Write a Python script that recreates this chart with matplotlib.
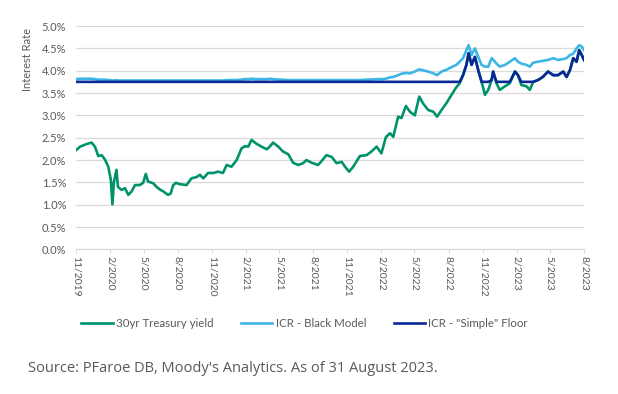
import matplotlib.pyplot as plt
import matplotlib.dates as mdates
import pandas as pd

# dates of the sampled points (shared by all three series)
dates = [
    "2019-11-01", "2019-11-12", "2019-11-30", "2019-12-13", "2019-12-22", "2019-12-31", "2020-01-09", "2020-01-18",
    "2020-01-27", "2020-02-03", "2020-02-07", "2020-02-11", "2020-02-18", "2020-02-22", "2020-03-03", "2020-03-12",
    "2020-03-21", "2020-03-30", "2020-04-08", "2020-04-21", "2020-04-30", "2020-05-07", "2020-05-13", "2020-05-27",
    "2020-06-05", "2020-06-14", "2020-06-23", "2020-07-06", "2020-07-13", "2020-07-20", "2020-07-27", "2020-08-07",
    "2020-08-25", "2020-09-07", "2020-09-21", "2020-09-30", "2020-10-09", "2020-10-22", "2020-11-05", "2020-11-18",
    "2020-12-01", "2020-12-11", "2020-12-24", "2021-01-07", "2021-01-20", "2021-01-29", "2021-02-07", "2021-02-16",
    "2021-03-02", "2021-03-15", "2021-03-29", "2021-04-06", "2021-04-15", "2021-04-29", "2021-05-12", "2021-05-26",
    "2021-06-08", "2021-06-22", "2021-07-05", "2021-07-14", "2021-07-28", "2021-08-14",
    "2021-08-19", "2021-09-06", "2021-09-20", "2021-10-03", "2021-10-17", "2021-10-26", "2021-11-06", "2021-11-17",
    "2021-12-05", "2021-12-23", "2022-01-05", "2022-01-19", "2022-02-01", "2022-02-13", "2022-02-24", "2022-03-05",
    "2022-03-18", "2022-03-27", "2022-04-08", "2022-04-19", "2022-05-02", "2022-05-14", "2022-05-24", "2022-06-07",
    "2022-06-21", "2022-07-01", "2022-07-13", "2022-07-26", "2022-08-09", "2022-08-22", "2022-08-31", "2022-09-09",
    "2022-09-18", "2022-09-24", "2022-10-02", "2022-10-11", "2022-10-20", "2022-10-29", "2022-11-07", "2022-11-16",
    "2022-11-25", "2022-11-29", "2022-12-08", "2022-12-17", "2022-12-31", "2023-01-13", "2023-01-27", "2023-02-04",
    "2023-02-13", "2023-02-27", "2023-03-08", "2023-03-17", "2023-03-30", "2023-04-12", "2023-04-26", "2023-05-10",
    "2023-05-23", "2023-06-06", "2023-06-15", "2023-06-24", "2023-07-03", "2023-07-12", "2023-07-19", "2023-07-26",
    "2023-08-01",
]

treasury = [
    2.22, 2.30, 2.36, 2.39, 2.30, 2.09, 2.11, 2.01, 1.85, 1.55,
    1.01, 1.50, 1.78, 1.40, 1.33, 1.37, 1.22, 1.30, 1.44, 1.44,
    1.49, 1.69, 1.52, 1.48, 1.40, 1.34, 1.30, 1.22, 1.25, 1.44,
    1.49, 1.46, 1.44, 1.59, 1.62, 1.67, 1.59, 1.71, 1.71, 1.74,
    1.71, 1.89, 1.85, 2.00, 2.26, 2.31, 2.30, 2.45, 2.36, 2.30,
    2.24, 2.30, 2.39, 2.30, 2.19, 2.13, 1.94, 1.89, 1.93, 2.00,
    1.94, 1.89,
    1.93, 2.11, 2.07, 1.93, 1.96, 1.85, 1.74, 1.85, 2.09, 2.11,
    2.19, 2.30, 2.15, 2.51, 2.60, 2.52, 2.97, 2.94, 3.21, 3.08,
    3.00, 3.42, 3.27, 3.12, 3.08, 2.97, 3.12, 3.27, 3.46, 3.63,
    3.72, 3.90, 4.13, 4.39, 4.13, 4.31, 4.01, 3.75, 3.46, 3.57,
    3.79, 3.98, 3.72, 3.57, 3.65, 3.72, 3.98, 3.90, 3.68, 3.65,
    3.57, 3.75, 3.79, 3.86, 3.98, 3.90, 3.90, 3.98, 3.86, 4.01,
    4.28, 4.20, 4.46, 4.35, 4.24,
]

black_model = [
    3.81, 3.82, 3.82, 3.82, 3.81, 3.80, 3.80, 3.80, 3.79, 3.79,
    3.78, 3.78, 3.79, 3.78, 3.78, 3.78, 3.78, 3.78, 3.78, 3.78,
    3.78, 3.78, 3.78, 3.78, 3.78, 3.78, 3.78, 3.78, 3.78, 3.78,
    3.78, 3.78, 3.78, 3.78, 3.78, 3.78, 3.78, 3.78, 3.78, 3.78,
    3.78, 3.79, 3.79, 3.79, 3.80, 3.81, 3.81, 3.82, 3.81, 3.81,
    3.81, 3.82, 3.81, 3.80, 3.80, 3.79, 3.79, 3.79, 3.79, 3.79,
    3.79, 3.79,
    3.79, 3.79, 3.79, 3.79, 3.79, 3.79, 3.79, 3.79, 3.79, 3.80,
    3.80, 3.81, 3.81, 3.82, 3.85, 3.86, 3.90, 3.93, 3.95, 3.94,
    3.98, 4.03, 4.01, 3.98, 3.94, 3.90, 3.98, 4.02, 4.08, 4.13,
    4.20, 4.28, 4.46, 4.57, 4.35, 4.50, 4.31, 4.13, 4.09, 4.09,
    4.28, 4.25, 4.16, 4.09, 4.13, 4.20, 4.28, 4.20, 4.16, 4.13,
    4.09, 4.18, 4.20, 4.22, 4.24, 4.28, 4.24, 4.26, 4.28, 4.35,
    4.38, 4.50, 4.57, 4.54, 4.46,
]

simple_floor = [
    3.75, 3.75, 3.75, 3.75, 3.75, 3.75, 3.75, 3.75, 3.75, 3.75,
    3.75, 3.75, 3.75, 3.75, 3.75, 3.75, 3.75, 3.75, 3.75, 3.75,
    3.75, 3.75, 3.75, 3.75, 3.75, 3.75, 3.75, 3.75, 3.75, 3.75,
    3.75, 3.75, 3.75, 3.75, 3.75, 3.75, 3.75, 3.75, 3.75, 3.75,
    3.75, 3.75, 3.75, 3.75, 3.75, 3.75, 3.75, 3.75, 3.75, 3.75,
    3.75, 3.75, 3.75, 3.75, 3.75, 3.75, 3.75, 3.75, 3.75, 3.75,
    3.75, 3.75,
    3.75, 3.75, 3.75, 3.75, 3.75, 3.75, 3.75, 3.75, 3.75, 3.75,
    3.75, 3.75, 3.75, 3.75, 3.75, 3.75, 3.75, 3.75, 3.75, 3.75,
    3.75, 3.75, 3.75, 3.75, 3.75, 3.75, 3.75, 3.75, 3.75, 3.75,
    3.75, 3.90, 4.13, 4.39, 4.13, 4.31, 4.01, 3.75, 3.75, 3.75,
    3.79, 3.98, 3.75, 3.75, 3.75, 3.75, 3.98, 3.90, 3.75, 3.75,
    3.75, 3.75, 3.79, 3.86, 3.98, 3.90, 3.90, 3.98, 3.86, 4.01,
    4.28, 4.20, 4.46, 4.35, 4.24,
]

tick_dates = pd.date_range("2019-11-01", "2023-08-01", freq="3MS")

x = pd.to_datetime(dates)

GREEN = "#00936b"
LIGHT = "#3db5e6"
NAVY = "#0a2896"
GREY = "#595959"

plt.rcParams['font.family'] = ['Lato', 'DejaVu Sans']

fig = plt.figure(figsize=(6.18, 3.94), dpi=100)
ax = fig.add_axes([0.123, 0.367, 0.822, 0.567])

ax.plot(x, treasury, color=GREEN, lw=1.9, label="30yr Treasury yield")
ax.plot(x, black_model, color=LIGHT, lw=1.9, label="ICR - Black Model")
ax.plot(x, simple_floor, color=NAVY, lw=1.9, label='ICR - "Simple" Floor')

ax.set_ylim(0, 5.0)
ax.set_yticks([i * 0.5 for i in range(11)])
ax.set_yticklabels([f"{i * 0.5:.1f}%" for i in range(11)])
ax.set_xlim(tick_dates[0], tick_dates[-1])
ax.set_xticks(tick_dates)
ax.set_xticklabels([f"{d.month}/{d.year}" for d in tick_dates], rotation=-90)

ax.grid(axis="y", color="#d9d9d9", lw=0.9)
ax.set_axisbelow(True)
for s in ["top", "right", "left"]:
    ax.spines[s].set_visible(False)
ax.spines["bottom"].set_color("#d9d9d9")
ax.tick_params(axis="y", length=0, labelsize=8, labelcolor=GREY, pad=7)
ax.tick_params(axis="x", length=3, color="#d9d9d9", labelsize=7.5, labelcolor=GREY, pad=2)

fig.text(0.044, 0.848, "Interest Rate", rotation=90, ha="center", va="center", fontsize=8, color=GREY)

fig.legend(loc="center", bbox_to_anchor=(0.493, 0.18), ncol=3, frameon=False, fontsize=8.3,
           labelcolor=GREY, handlelength=2.7, handletextpad=0.3, columnspacing=2.4)

fig.text(0.045, 0.055, "Source: PFaroe DB, Moody's Analytics. As of 31 August 2023.",
         fontsize=10.5, color=GREY, family=["Open Sans", "DejaVu Sans"])

fig.savefig("out.png", dpi=100)
